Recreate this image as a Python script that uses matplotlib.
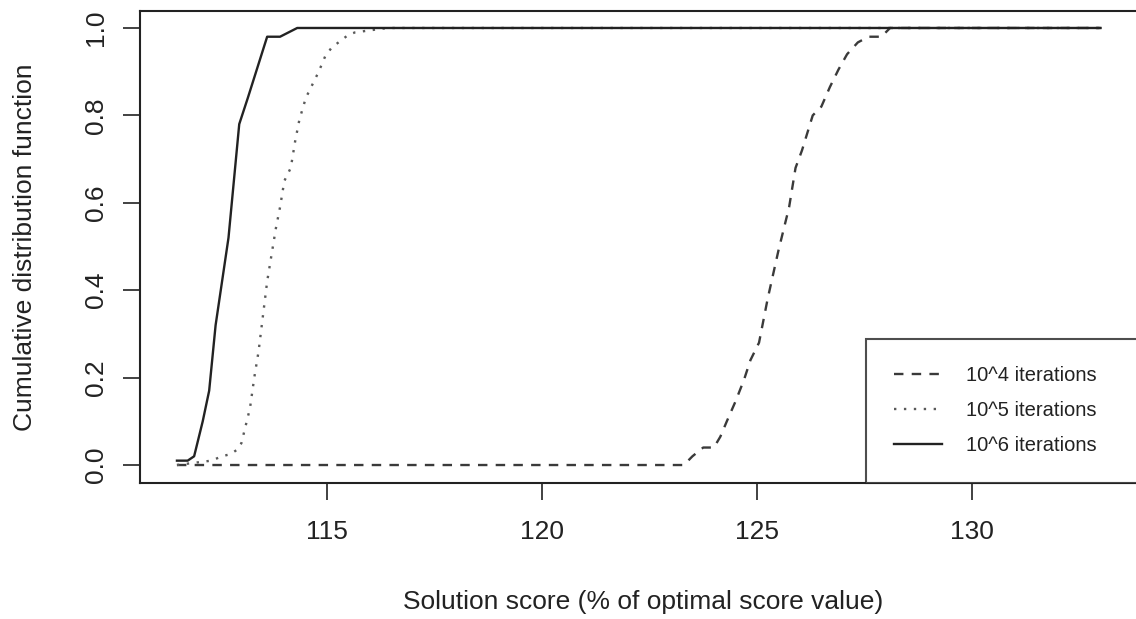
import numpy as np
import matplotlib
matplotlib.use("Agg")
import matplotlib.pyplot as plt

plt.rcParams['font.family'] = ['Liberation Sans', 'DejaVu Sans']

# 10^4 iterations (dashed)
x_e4 = [111.5, 123.3, 123.5, 123.75, 124.0, 124.15, 124.3, 124.5, 124.7, 124.85, 125.05,
        125.25, 125.5, 125.75, 125.9, 126.05, 126.3, 126.5, 126.7, 126.9, 127.1, 127.35,
        127.6, 127.9, 128.1, 133.0]
y_e4 = [0.0, 0.0, 0.02, 0.04, 0.04, 0.065, 0.10, 0.145, 0.195, 0.24, 0.28,
        0.38, 0.49, 0.59, 0.68, 0.72, 0.80, 0.82, 0.865, 0.905, 0.94, 0.967,
        0.98, 0.98, 1.0, 1.0]

# 10^5 iterations (dotted)
x_e5 = [111.5, 112.3, 112.55, 112.75, 112.9, 113.0, 113.1, 113.2, 113.3, 113.4, 113.5,
        113.6, 113.7, 113.8, 113.9, 114.0, 114.15, 114.25, 114.35, 114.5, 114.65,
        114.8, 114.95, 115.1, 115.3, 115.5, 115.65, 116.4, 133.0]
y_e5 = [0.0, 0.01, 0.02, 0.025, 0.035, 0.05, 0.09, 0.13, 0.2, 0.26, 0.34,
        0.42, 0.48, 0.54, 0.59, 0.65, 0.68, 0.74, 0.79, 0.84, 0.87,
        0.90, 0.935, 0.955, 0.97, 0.985, 0.99, 1.0, 1.0]

# 10^6 iterations (solid)
x_e6 = [111.5, 111.75, 111.9, 112.1, 112.25, 112.4, 112.7, 112.95, 113.15, 113.6, 113.9, 114.3, 133.0]
y_e6 = [0.01, 0.01, 0.02, 0.1, 0.17, 0.32, 0.52, 0.78, 0.84, 0.98, 0.98, 1.0, 1.0]

labels = ['10^4 iterations', '10^5 iterations', '10^6 iterations']
x_ticks = [115, 120, 125, 130]
y_ticks = [0.0, 0.2, 0.4, 0.6, 0.8, 1.0]

W, H = 1136, 619
fig = plt.figure(figsize=(W / 100, H / 100), dpi=100)
# plot region in pixels: left 140, right ~1137.5 (cut off), top 10, bottom 482.5
ax = fig.add_axes([140 / W, (H - 482.5) / H, (1137.5 - 140) / W, (482.5 - 10.5) / H])

lw = 1.7
ax.plot(x_e4, y_e4, color='#3a3a3a', lw=lw, linestyle=(0, (4, 3.5)), label=labels[0])
ax.plot(x_e5, y_e5, color='#5a5a5a', lw=lw, linestyle=(0, (1, 3.2)), label=labels[1])
ax.plot(x_e6, y_e6, color='#222222', lw=lw, linestyle='-', label=labels[2])

ax.set_xlim(110.64, 133.86)
ax.set_ylim(-0.04, 1.04)
ax.set_xticks(x_ticks)
ax.set_xticklabels([str(t) for t in x_ticks])
ax.set_yticks(y_ticks)
ax.set_yticklabels([f'{t:.1f}' for t in y_ticks], rotation=90, va='center')

for s in ax.spines.values():
    s.set_linewidth(1.5)
    s.set_color('#222222')
ax.tick_params(axis='both', length=12, width=1.3, color='#333333',
               labelsize=19, labelcolor='#222222')
ax.tick_params(axis='x', pad=15)
ax.tick_params(axis='y', pad=11)

leg = ax.legend(loc='lower left', bbox_to_anchor=(0.7278, 0.0, 0.2722, 0.3), mode='expand',
                fontsize=14.5, frameon=True, fancybox=False, borderaxespad=0,
                handlelength=2.39, handletextpad=1.19, labelspacing=0.79, borderpad=1.37)
leg.get_frame().set_edgecolor('#222222')
leg.get_frame().set_linewidth(1.5)
for t in leg.get_texts():
    t.set_color('#222222')

fig.text(643 / W, (H - 609) / H, 'Solution score (% of optimal score value)',
         ha='center', va='baseline', fontsize=19, color='#222222')
fig.text(25 / W, (H - 247) / H, 'Cumulative distribution function',
         ha='center', va='center', rotation=90, fontsize=19, color='#222222')

fig.savefig('out.png', dpi=100)
